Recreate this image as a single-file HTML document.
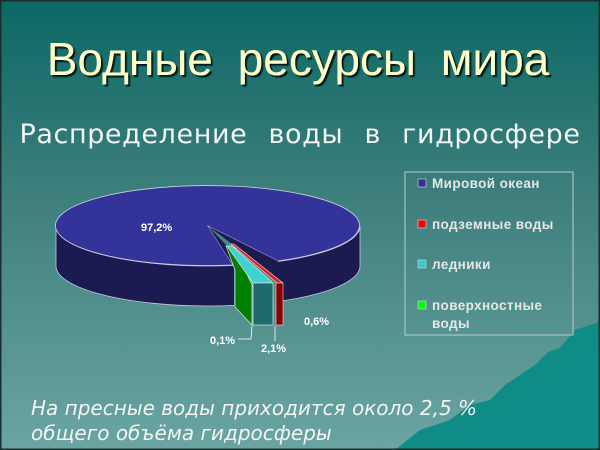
<!DOCTYPE html>
<html><head><meta charset="utf-8"><style>
html,body{margin:0;padding:0;}
body{width:600px;height:450px;overflow:hidden;}
svg{display:block;}
</style></head><body>
<svg width="600" height="450" xmlns="http://www.w3.org/2000/svg">
<defs>
<linearGradient id="bg" x1="0" y1="0" x2="0" y2="1">
<stop offset="0" stop-color="#0b6864"/>
<stop offset="0.45" stop-color="#3f807e"/>
<stop offset="1" stop-color="#6aa5a2"/>
</linearGradient>
<clipPath id="sideclip"><rect x="0" y="0" width="234" height="450"/><rect x="278" y="0" width="322" height="450"/></clipPath>
<filter id="sh"><feDropShadow dx="2" dy="2" stdDeviation="0.6" flood-color="#000" flood-opacity="0.8"/></filter>
</defs>
<rect width="600" height="450" fill="url(#bg)"/>
<polygon points="395,450 420,430 450,420 470,405 490,400 505,385 520,375 535,365 548,352 560,348 575,330 590,325 600,322 600,450" fill="#0f8b88"/>
<polygon points="470,450 500,420 520,410 540,390 560,380 580,360 600,350 600,450" fill="#118f8c" opacity="0.7"/>
<rect x="0.5" y="0.5" width="599" height="449" fill="none" stroke="#1a2e30" stroke-width="2"/>

<text x="298" y="75" text-anchor="middle" font-family="Liberation Sans, sans-serif" font-size="46" fill="#ffffc8" filter="url(#sh)" word-spacing="12">Водные ресурсы мира</text>
<text x="300" y="143" text-anchor="middle" font-family="DejaVu Sans, sans-serif" font-size="27" fill="#f4f4f4" word-spacing="12" letter-spacing="0.6">Распределение воды в гидросфере</text>

<!-- pie side -->
<g clip-path="url(#sideclip)">
<path d="M56,226 A152,40 0 0 0 360,226 L360,266 A152,40 0 0 1 56,266 Z" fill="#1b1b52" stroke="#c8c8d8" stroke-width="0.8"/>
</g>
<!-- pie top with wedge removed -->
<path d="M208,226 L233,265 A152,40 0 1 1 278,261 Z" fill="#333399" stroke="#d0d0e0" stroke-width="0.8"/>
<path d="M208,226 L228,247 L233,265 Z" fill="#1b1b52"/>
<path d="M208,226 L278,261 L278,283 L240,250 Z" fill="#1b1b52"/>
<!-- green slice -->
<polygon points="226,246 235,248 252,285 252,325 235,307 235,270" fill="#008000" stroke="#e0e0e0" stroke-width="0.7"/>
<!-- cyan slice -->
<polygon points="227,246 232,246 273,283 253,283" fill="#40d0d0" stroke="#e0e0e0" stroke-width="0.7"/>
<rect x="253" y="283" width="20" height="42" fill="#1d6b6b" stroke="#e0e0e0" stroke-width="0.7"/>
<!-- red slice -->
<polygon points="231,244 234,244 283,283 277,283" fill="#e02020" stroke="#e0e0e0" stroke-width="0.6"/>
<rect x="276" y="283" width="7" height="42" fill="#8b0000" stroke="#e0e0e0" stroke-width="0.6"/>

<g font-family="Liberation Sans, sans-serif" font-weight="bold" font-size="11" fill="#fff">
<text x="141" y="231">97,2%</text>
<text x="304" y="325">0,6%</text>
<text x="210" y="344">0,1%</text>
<text x="261" y="352">2,1%</text>
</g>
<polyline points="238,339 251,339 252,326" fill="none" stroke="#fff" stroke-width="0.8"/>
<line x1="275" y1="341" x2="275" y2="326" stroke="#fff" stroke-width="0.8"/>

<!-- legend -->
<rect x="405" y="172" width="168" height="163" fill="none" stroke="#b8cfcf" stroke-width="1"/>
<g font-family="Liberation Sans, sans-serif" font-weight="bold" font-size="13.5" fill="#e6e6e6" letter-spacing="0.4">
<rect x="418" y="179" width="8" height="8" fill="#333399" stroke="#ccc" stroke-width="0.7"/>
<text x="432" y="188">Мировой океан</text>
<rect x="418" y="220" width="8" height="8" fill="#ff0000" stroke="#ccc" stroke-width="0.7"/>
<text x="432" y="229">подземные воды</text>
<rect x="418" y="260" width="8" height="8" fill="#33cccc" stroke="#ccc" stroke-width="0.7"/>
<text x="432" y="269">ледники</text>
<rect x="418" y="301" width="8" height="8" fill="#00ff00" stroke="#ccc" stroke-width="0.7"/>
<text x="432" y="310">поверхностные</text>
<text x="432" y="328">воды</text>
</g>

<g font-family="DejaVu Sans, sans-serif" font-style="italic" font-size="20" fill="#f4f4f4">
<text x="31" y="415">На пресные воды приходится около 2,5 %</text>
<text x="31" y="440">общего объёма гидросферы</text>
</g>
</svg>
</body></html>
